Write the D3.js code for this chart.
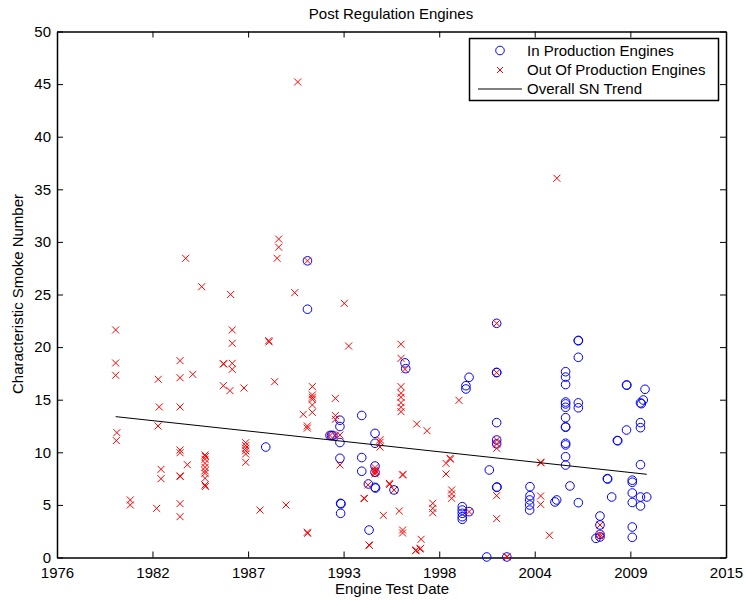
<!DOCTYPE html>
<meta charset="utf-8">
<style>
  body { margin: 0; background: white; }
  text { font-family: "Liberation Sans", Arial, sans-serif; }
  .axis path, .axis line { stroke: black; }
  .axis text { font-size: 15px; fill: black; }
</style>
<html>
<body>
<script src="https://d3js.org/d3.v7.min.js"></script>
<script>
  // x values are decimal years, y values are characteristic smoke numbers
  var inProduction = [
    [1988.73, 10.5], [1991.12, 28.2], [1991.12, 23.6], [1992.41, 11.6], [1992.50, 11.6], [1992.58, 11.6],
    [1992.98, 13.05], [1992.98, 12.45], [1992.98, 10.93], [1992.98, 9.43], [1993.02, 5.15], [1993.04, 5.1],
    [1993.02, 4.2], [1994.23, 13.5], [1994.23, 9.5], [1994.23, 8.2], [1994.61, 6.99], [1994.65, 2.61],
    [1994.99, 11.8], [1994.99, 10.86], [1994.99, 8.7], [1994.99, 8.1], [1994.99, 6.67], [1995.02, 6.6],
    [1996.08, 6.42], [1996.71, 18.5], [1996.75, 17.95], [1999.99, 4.83], [1999.99, 4.51], [1999.99, 4.2],
    [1999.99, 3.88], [1999.99, 3.63], [2000.38, 4.36], [2000.20, 16.33], [2000.20, 16.02], [2000.38, 17.13],
    [2001.39, 0.05], [2001.54, 8.32], [2001.96, 22.26], [2001.96, 17.57], [2001.96, 17.6], [2001.96, 12.82],
    [2001.96, 11.17], [2001.96, 10.8], [2001.96, 6.67], [2001.98, 6.7], [2002.54, 0.05], [2003.87, 6.73],
    [2003.87, 5.88], [2003.85, 5.47], [2003.85, 4.99], [2003.85, 4.51], [2005.30, 5.28], [2005.40, 5.47],
    [2005.91, 17.66], [2005.91, 17.15], [2005.91, 16.44], [2005.91, 14.78], [2005.91, 14.6], [2005.91, 14.28],
    [2005.91, 13.29], [2005.91, 12.42], [2005.91, 12.38], [2005.91, 10.86], [2005.91, 10.7], [2005.91, 9.58],
    [2005.91, 8.79], [2006.16, 6.8], [2006.64, 20.64], [2006.64, 20.6], [2006.64, 19.03], [2006.64, 14.7],
    [2006.64, 14.23], [2006.64, 5.21], [2007.65, 1.82], [2007.88, 3.94], [2007.88, 3.09], [2007.88, 2.2],
    [2007.88, 1.95], [2008.30, 7.5], [2008.32, 7.46], [2008.55, 5.75], [2008.87, 11.12], [2008.90, 11.1],
    [2009.40, 16.4], [2009.42, 16.38], [2009.40, 12.12], [2009.73, 7.35], [2009.73, 7.15], [2009.73, 6.13],
    [2009.73, 5.23], [2009.73, 2.9], [2009.73, 1.92], [2010.20, 14.7], [2010.25, 14.62], [2010.36, 14.97],
    [2010.46, 15.99], [2010.20, 12.82], [2010.20, 12.34], [2010.20, 8.82], [2010.20, 5.75], [2010.20, 4.9],
    [2010.56, 5.75]
  ];

  var outProduction = [
    [1980.13, 21.63], [1980.13, 18.49], [1980.13, 17.32], [1980.20, 11.87], [1980.17, 11.11], [1980.97, 5.47],
    [1980.97, 4.99], [1982.57, 16.94], [1982.63, 14.31], [1982.56, 12.5], [1982.73, 8.38], [1982.73, 7.49],
    [1982.48, 4.67], [1983.82, 18.71], [1983.82, 17.09], [1983.82, 14.31], [1983.82, 10.22], [1983.82, 9.96],
    [1983.82, 7.75], [1983.83, 7.7], [1983.82, 5.12], [1983.82, 3.88], [1984.55, 17.41], [1984.24, 8.82],
    [1984.14, 28.44], [1985.06, 25.74], [1985.25, 9.74], [1985.27, 9.6], [1985.25, 9.33], [1985.25, 8.95],
    [1985.25, 8.57], [1985.25, 8.25], [1985.25, 8.0], [1985.25, 7.53], [1985.25, 6.89], [1985.27, 6.75],
    [1986.30, 18.42], [1986.32, 18.4], [1986.30, 16.33], [1986.68, 15.86], [1986.72, 25.0], [1986.81, 21.63],
    [1986.81, 20.36], [1986.81, 18.46], [1986.81, 17.89], [1987.48, 16.11], [1987.58, 10.91], [1987.58, 10.63],
    [1987.58, 10.38], [1987.58, 10.15], [1987.58, 9.84], [1987.58, 9.05], [1988.40, 4.51], [1988.90, 20.61],
    [1988.92, 20.5], [1989.24, 16.71], [1989.89, 4.99], [1989.47, 30.27], [1989.47, 29.5], [1989.38, 28.44],
    [1990.56, 45.2], [1991.12, 28.2], [1990.39, 25.17], [1990.88, 13.61], [1991.11, 12.5], [1991.11, 12.3],
    [1991.11, 2.4], [1991.13, 2.3], [1991.40, 16.24], [1991.40, 15.45], [1991.40, 15.23], [1991.40, 15.04],
    [1991.40, 14.5], [1991.40, 13.8], [1992.72, 15.13], [1992.72, 13.5], [1992.72, 13.14], [1992.41, 11.6],
    [1992.70, 11.6], [1992.98, 11.64], [1992.98, 8.79], [1993.23, 24.16], [1993.48, 20.1], [1994.36, 5.63],
    [1994.38, 5.6], [1994.65, 1.19], [1994.67, 1.15], [1994.59, 6.9], [1994.99, 8.55], [1994.99, 8.3],
    [1994.99, 8.1], [1994.99, 7.95], [1995.05, 8.2], [1995.28, 11.2], [1995.28, 10.95], [1995.28, 10.5],
    [1995.47, 4.01], [1995.81, 7.05], [1995.83, 6.95], [1996.08, 6.42], [1996.48, 20.27], [1996.48, 18.93],
    [1996.71, 17.89], [1996.48, 16.24], [1996.48, 15.61], [1996.48, 15.23], [1996.48, 14.72], [1996.48, 14.28],
    [1996.48, 13.86], [1996.57, 7.84], [1996.59, 7.9], [1996.38, 4.42], [1996.57, 2.61], [1996.57, 2.33],
    [1997.38, 12.69], [1997.97, 12.05], [1997.32, 0.65], [1997.35, 0.71], [1997.57, 0.81], [1997.60, 0.87],
    [1997.63, 1.73], [1998.30, 5.15], [1998.30, 4.67], [1998.30, 4.26], [1999.06, 8.95], [1999.29, 9.43],
    [1999.31, 9.35], [1999.06, 7.94], [1999.38, 6.42], [1999.38, 6.04], [1999.38, 5.63], [1999.80, 14.94],
    [2000.38, 4.36], [2001.96, 22.26], [2001.96, 17.57], [2001.96, 11.17], [2001.96, 10.79], [2001.96, 10.38],
    [2001.96, 5.88], [2001.96, 3.69], [2002.54, 0.05], [2002.56, 0.1], [2004.48, 9.05], [2004.50, 9.0],
    [2004.48, 5.85], [2004.48, 5.05], [2004.98, 2.11], [2005.41, 36.05], [2007.88, 3.09], [2007.88, 2.2],
    [2007.90, 2.0]
  ];

  var trend = [[1980.13, 13.39], [2010.56, 7.91]];

  // datenum ticks (every 2000 days) labelled by year
  var xTickValues = [1976.77, 1982.24, 1987.72, 1993.19, 1998.67, 2004.14, 2009.62, 2015.10];
  var xTickLabels = ["1976", "1982", "1987", "1993", "1998", "2004", "2009", "2015"];
  var yTickValues = [0, 5, 10, 15, 20, 25, 30, 35, 40, 45, 50];

  var legendItems = ["In Production Engines", "Out Of Production Engines", "Overall SN Trend"];

  var width = 746, height = 600;
  var mLeft = 57, mRight = 726, mTop = 31.5, mBottom = 557.5;

  var x = d3.scaleLinear().domain([xTickValues[0], xTickValues[xTickValues.length - 1]]).range([mLeft, mRight]);
  var y = d3.scaleLinear().domain([0, 50]).range([mBottom, mTop]);

  var svg = d3.select("body").append("svg")
    .attr("width", width)
    .attr("height", height)
    .style("background", "white");

  // axes, ticks pointing inward like matlab
  svg.append("g").attr("class", "axis")
    .attr("transform", "translate(0," + mBottom + ")")
    .call(d3.axisBottom(x).tickValues(xTickValues).tickFormat((d, i) => xTickLabels[i]).tickSizeInner(-6).tickSizeOuter(0).tickPadding(10));
  svg.append("g").attr("class", "axis")
    .attr("transform", "translate(0," + mTop + ")")
    .call(d3.axisTop(x).tickValues(xTickValues).tickFormat("").tickSizeInner(-6).tickSizeOuter(0));
  svg.append("g").attr("class", "axis")
    .attr("transform", "translate(" + mLeft + ",0)")
    .call(d3.axisLeft(y).tickValues(yTickValues).tickSizeInner(-6).tickSizeOuter(0).tickPadding(6));
  svg.append("g").attr("class", "axis")
    .attr("transform", "translate(" + mRight + ",0)")
    .call(d3.axisRight(y).tickValues(yTickValues).tickFormat("").tickSizeInner(-6).tickSizeOuter(0));

  svg.selectAll(".axis path").attr("stroke-width", 1.5);

  var plot = svg.append("g");

  plot.selectAll("circle.inprod")
    .data(inProduction)
    .enter().append("circle")
    .attr("class", "inprod")
    .attr("cx", d => x(d[0]))
    .attr("cy", d => y(d[1]))
    .attr("r", 4.3)
    .attr("fill", "none")
    .attr("stroke", "#0000ff")
    .attr("stroke-width", 1);

  var s = 3.5;
  plot.selectAll("path.outprod")
    .data(outProduction)
    .enter().append("path")
    .attr("class", "outprod")
    .attr("d", d => {
      var cx = x(d[0]), cy = y(d[1]);
      return "M" + (cx - s) + "," + (cy - s) + "L" + (cx + s) + "," + (cy + s) +
             "M" + (cx - s) + "," + (cy + s) + "L" + (cx + s) + "," + (cy - s);
    })
    .attr("stroke", "#ff0000")
    .attr("stroke-width", 1);

  plot.append("path")
    .datum(trend)
    .attr("d", d3.line().x(d => x(d[0])).y(d => y(d[1])))
    .attr("fill", "none")
    .attr("stroke", "black")
    .attr("stroke-width", 1);

  // titles
  svg.append("text")
    .attr("x", 391).attr("y", 19)
    .attr("text-anchor", "middle")
    .style("font-size", "15px")
    .text("Post Regulation Engines");

  svg.append("text")
    .attr("x", 392).attr("y", 594)
    .attr("text-anchor", "middle")
    .style("font-size", "15px")
    .text("Engine Test Date");

  svg.append("text")
    .attr("transform", "translate(23,294) rotate(-90)")
    .attr("text-anchor", "middle")
    .style("font-size", "15px")
    .text("Characteristic Smoke Number");

  // legend
  var lg = svg.append("g");
  lg.append("rect")
    .attr("x", 469.5).attr("y", 38.5)
    .attr("width", 249).attr("height", 62)
    .attr("fill", "white")
    .attr("stroke", "black")
    .attr("stroke-width", 1.5);

  lg.append("circle")
    .attr("cx", 500).attr("cy", 50.5).attr("r", 4.3)
    .attr("fill", "none").attr("stroke", "#0000ff");
  lg.append("path")
    .attr("d", "M497,67L503,73M497,73L503,67")
    .attr("stroke", "#ff0000");
  lg.append("line")
    .attr("x1", 478).attr("x2", 522).attr("y1", 89).attr("y2", 89)
    .attr("stroke", "black");

  lg.selectAll("text")
    .data(legendItems)
    .enter().append("text")
    .attr("x", 527)
    .attr("y", (d, i) => 56 + i * 19.2)
    .style("font-size", "15px")
    .text(d => d);
</script>
</body>
</html>
